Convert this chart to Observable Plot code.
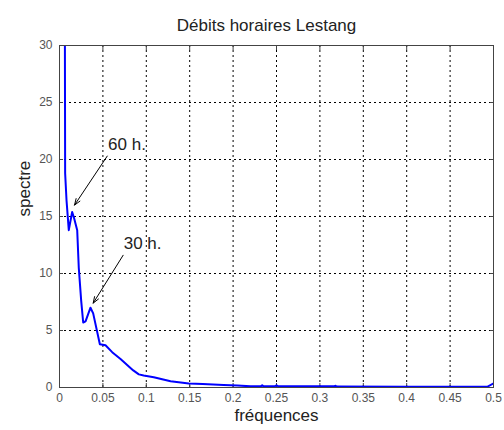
<!DOCTYPE html>
<html>
<head>
<meta charset="utf-8">
<script src="https://cdn.jsdelivr.net/npm/d3@7"></script>
<script src="https://cdn.jsdelivr.net/npm/@observablehq/plot@0.6"></script>
<style>
  html, body { margin: 0; padding: 0; background: #fff; }
  #chart { width: 504px; height: 430px; }
</style>
</head>
<body>
<div id="chart"></div>
<script>
const titleText = "Débits horaires Lestang";
const xLabel = "fréquences";
const yLabel = "spectre";

const freq = [0.0055, 0.0065, 0.0081, 0.0107, 0.0146, 0.017, 0.0204, 0.0222, 0.025, 0.0273, 0.030, 0.0357, 0.0388, 0.0465, 0.053, 0.0607, 0.0703, 0.085, 0.0914, 0.097, 0.1086, 0.128, 0.149, 0.165, 0.189, 0.205, 0.22, 0.232, 0.2335, 0.235, 0.248, 0.25, 0.252, 0.316, 0.318, 0.32, 0.40, 0.4927, 0.4997];
const spec = [60, 18.8, 16.4, 13.8, 15.4, 14.8, 13.8, 10.5, 7.6, 5.7, 5.8, 7.0, 6.5, 3.8, 3.7, 3.1, 2.5, 1.5, 1.15, 1.05, 0.9, 0.55, 0.35, 0.3, 0.22, 0.18, 0.1, 0.1, 0.2, 0.1, 0.1, 0.2, 0.1, 0.1, 0.15, 0.08, 0.06, 0.06, 0.35];

const xTicks = [0, 0.05, 0.1, 0.15, 0.2, 0.25, 0.3, 0.35, 0.4, 0.45, 0.5];
const yTicks = [0, 5, 10, 15, 20, 25, 30];

const annLabels = ["60 h.", "30 h."];
const annTextX = [0.056, 0.074];
const annTextY = [21.3, 12.6];
const arrowX1 = [0.055, 0.0733];
const arrowY1 = [20.3, 11.6];
const arrowX2 = [0.0173, 0.0388];
const arrowY2 = [16.0, 7.4];

const data = freq.map((f, i) => ({f, s: spec[i]}));
const ann = annLabels.map((t, i) => ({t, x: annTextX[i], y: annTextY[i], x1: arrowX1[i], y1: arrowY1[i], x2: arrowX2[i], y2: arrowY2[i]}));

const innerX = xTicks.slice(1, -1);
const innerY = yTicks.slice(1, -1);

const chart = Plot.plot({
  width: 504,
  height: 430,
  marginLeft: 59,
  marginRight: 11,
  marginTop: 45,
  marginBottom: 43,
  style: {fontFamily: "'Liberation Sans', Arial, sans-serif", background: "#fff"},
  x: {domain: [0, 0.5], ticks: xTicks},
  y: {domain: [0, 30], ticks: yTicks},
  marks: [
    Plot.ruleX(innerX, {stroke: "#000", strokeDasharray: "2,3", strokeWidth: 1}),
    Plot.ruleY(innerY, {stroke: "#000", strokeDasharray: "2,3", strokeWidth: 1}),
    Plot.axisX({ticks: xTicks, tickSize: 0, tickPadding: 6, fontSize: 12, color: "#555", label: null, tickFormat: d => String(d)}),
    Plot.axisY({ticks: yTicks, tickSize: 0, tickPadding: 7, fontSize: 12, color: "#555", label: null}),
    Plot.axisX({ticks: xTicks, tickSize: -4, text: null, label: null, anchor: "bottom", stroke: "#444"}),
    Plot.axisX({ticks: xTicks, tickSize: -4, text: null, label: null, anchor: "top", stroke: "#444"}),
    Plot.axisY({ticks: yTicks, tickSize: -4, text: null, label: null, anchor: "left", stroke: "#444"}),
    Plot.axisY({ticks: yTicks, tickSize: -4, text: null, label: null, anchor: "right", stroke: "#444"}),
    Plot.line(data, {x: "f", y: "s", stroke: "#0000ff", strokeWidth: 2, clip: true}),
    Plot.frame({stroke: "#444", strokeWidth: 1}),
    Plot.arrow(ann, {x1: "x1", y1: "y1", x2: "x2", y2: "y2", stroke: "#000", strokeWidth: 1, headLength: 10, headAngle: 40}),
    Plot.text(ann, {x: "x", y: "y", text: "t", textAnchor: "start", fontSize: 17, fill: "#222"}),
    Plot.text([titleText], {frameAnchor: "top", dy: -27, fontSize: 17, fill: "#222", dx: -10}),
    Plot.text([xLabel], {frameAnchor: "bottom", dy: 33, fontSize: 17, fill: "#222"}),
    Plot.text([yLabel], {frameAnchor: "left", dx: -35, rotate: -90, fontSize: 17, fill: "#222"})
  ]
});
document.getElementById("chart").appendChild(chart);
</script>
</body>
</html>
